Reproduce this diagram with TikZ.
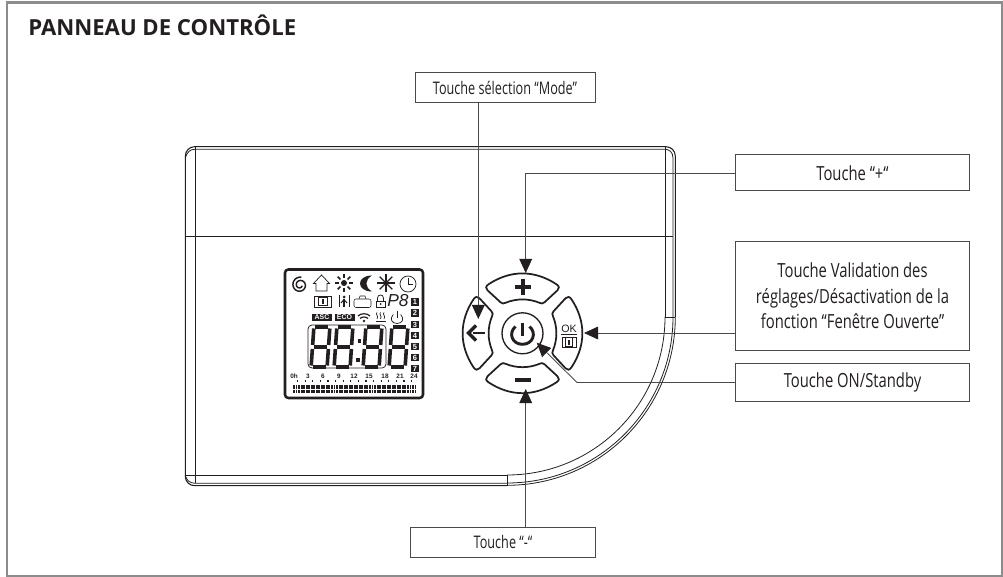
\documentclass[tikz,border=0pt]{standalone}
\usepackage{fontspec}
\setmainfont{Open Sans}
\newfontfamily\labelfont[FakeStretch=0.76]{Open Sans}
\newfontfamily\narrowfont[FakeStretch=0.73]{Open Sans}
\newfontfamily\lcdfont{Liberation Sans}
\usetikzlibrary{arrows.meta,calc}
\definecolor{Ink}{HTML}{231F20}
\definecolor{Wire}{HTML}{4A4A4A}
\definecolor{Frame}{HTML}{8C8C8C}
\newcommand{\lcddigit}[1]{%
  \begin{scope}[shift={(#1,347)},xslant=0.07]
    \foreach \ax/\ay/\bx/\by in {3.5/-20/16.5/-20,2/-18.5/2/-2,18/-18.5/18/-2,3.5/0/16.5/0,2/2/2/18.5,18/2/18/18.5,3.5/20/16.5/20}
      \draw[line width=2.7pt,Ink] (\ax,\ay) -- (\bx,\by);
  \end{scope}}
\begin{document}
\begin{tikzpicture}[
    x=0.75pt,y=-0.75pt,
    labelbox/.style={draw=Wire,line width=0.75pt,fill=white,align=center,inner sep=0pt,text=Ink},
    sidebox/.style={labelbox,font=\labelfont\fontsize{14.6}{19.4}\selectfont},
    endbox/.style={labelbox,font=\narrowfont\fontsize{13}{16}\selectfont},
    leader/.style={draw=Wire,line width=0.65pt,-{Triangle[length=10.5pt,width=9.5pt,fill=Ink,color=Ink]}},
    shell/.style={draw=Ink,line width=0.6pt},
    keypad/.style={draw=Ink,line width=1.3pt,fill=white},
    icon/.style={draw=Ink,line width=0.55pt},
    lcdtext/.style={inner sep=0pt,text=Ink,font=\lcdfont\bfseries\fontsize{4.8}{5}\selectfont}
  ]
    \useasboundingbox (0,0) rectangle (1003,577);
    \draw[draw=Frame,line width=1.6pt] (7,2.5) rectangle (1002,576);
    \node[anchor=base west,inner sep=0pt,text=Ink,font=\bfseries\fontsize{16.6}{20}\selectfont] (title) at (28,35.5) {PANNEAU DE CONTRÔLE};

    \draw[shell,line width=0.8pt,rounded corners=7pt] (507,485.7) -- (185.3,485.7) -- (185.3,146.7) -- (675.3,146.7) -- (675.3,317);
    \draw[shell] (185.3,236.7) -- (673,236.7);
    \draw[shell] (185.3,475) -- (507,475) -- (507,485.7);
    \draw[shell] (185.3,475) .. controls (186,480) and (190,483.3) .. (195,483.3) -- (507,483.3);
    \draw[shell] (185.3,158) .. controls (187,152) and (190,149.3) .. (195,149.3) -- (665,149.3) .. controls (669,149.3) and (673,152) .. (673,158) -- (673,317);
    \draw[shell] (195,146.7) -- (195,483.3);
    \draw[shell] (665,146.7) -- (665,317);
    \draw[shell] (665,317) -- (675.3,317);
    \draw[shell] (665,317) arc[start angle=0,end angle=90,radius=158];
    \draw[shell] (673,317) arc[start angle=0,end angle=90,radius=166];
    \draw[shell] (675.3,317) arc[start angle=0,end angle=90,radius=168.3];

    \draw[draw=Ink,line width=1.9pt,rounded corners=2.5pt] (285,269.5) rectangle (423,398);
    \draw[icon,line width=1.1pt] plot[smooth,domain=20:640,samples=40] ({300+(2+6*\x/640)*cos(\x)},{285+(2+6*\x/640)*sin(\x)});
    \draw[icon] (316,291) -- (316,283.5) -- (313.5,283.5) -- (321.5,275) -- (329.5,283.5) -- (327,283.5) -- (327,291) -- cycle;
    \fill[Ink] (344,283) circle (3);
    \foreach \ang in {0,45,...,315}
      \draw[icon,line width=1.1pt] ($(344,283)+(\ang:5)$) -- ($(344,283)+(\ang:9)$);
    \fill[Ink] (372,275.5) .. controls (356,275.5) and (356,291.5) .. (372,291.5) .. controls (364.5,287) and (364.5,280) .. (372,275.5) -- cycle;
    \foreach \ang in {0,45,...,135}
      \draw[icon,line width=1pt] ($(386,283)+(\ang:9)$) -- ($(386,283)+(\ang+180:9)$);
    \draw[icon] (408,284) circle (8);
    \draw[icon] (408,278) -- (408,284) -- (413,284);
    \draw[icon,line width=0.4pt] (314,296) rectangle (331,307);
    \draw[icon,line width=0.4pt] (318,297.5) rectangle (327,305.5);
    \fill[Ink] (321.5,299) rectangle (323.5,304);
    \draw[icon] (339,295.5) -- (339,307);
    \draw[icon] (349,295.5) -- (349,307);
    \fill[Ink] (344,297) circle (1.5);
    \draw[icon,line width=1.1pt] (344,299) -- (344,307);
    \draw[icon,line width=0.7pt] (341,303) -- (344,299.5) -- (347,303);
    \draw[icon,line width=0.4pt,rounded corners=1.5pt] (354,299) rectangle (371,307.5);
    \draw[icon,line width=0.4pt] (359,299) -- (360,296) -- (365,296) -- (366,299);
    \draw[icon] (376,301) rectangle (385,307.5);
    \draw[icon] (377.5,301) -- (377.5,298) .. controls (377.5,294) and (383.5,294) .. (383.5,298) -- (383.5,301);
    \fill[Ink] (380.5,304) circle (1);
    \node[inner sep=0pt,text=Ink,font=\lcdfont\itshape\fontsize{13}{13}\selectfont] (pgmlabel) at (398,301) {P8};
    \node[fill=Ink,text=white,inner sep=0pt,minimum width=15pt,minimum height=5.4pt,font=\lcdfont\bfseries\fontsize{5.2}{5}\selectfont] (asclabel) at (322,317.5) {ASC};
    \node[fill=Ink,text=white,inner sep=0pt,minimum width=15pt,minimum height=5.4pt,font=\lcdfont\bfseries\fontsize{5.2}{5}\selectfont] (ecolabel) at (344.5,317.5) {ECO};
    \draw[icon,line width=0.9pt] (358,316) .. controls (361,313) and (367,313) .. (370,316);
    \draw[icon,line width=0.9pt] (360,318.5) .. controls (362,316.5) and (366,316.5) .. (368,318.5);
    \fill[Ink] (364,321) circle (1.3);
    \foreach \hx in {377,380.5,384}
      \draw[icon] (\hx,312.5) .. controls ($(\hx,312.5)+(-2,2)$) and ($(\hx,312.5)+(2,3)$) .. ($(\hx,312.5)+(0,6.5)$);
    \draw[icon,line width=0.9pt] (375.5,321.5) -- (385.5,321.5);
    \draw[icon] (393.3,314.5) .. controls (389,319) and (392,323.5) .. (397,323.5) .. controls (402,323.5) and (405,319) .. (400.7,314.5);
    \draw[icon] (397,311.5) -- (397,318.5);
    \foreach \num/\ny in {1/302,2/313,3/324.5,4/335.5,5/346.5,6/357.5,7/368.5}
      \node[fill=Ink,text=white,inner sep=0pt,minimum size=5.8pt,font=\lcdfont\bfseries\fontsize{5.6}{5}\selectfont] (zone\num) at (415,\ny) {\num};
    \draw[icon,rounded corners=3pt] (308,325) rectangle (386,368);
    \lcddigit{310.5}
    \lcddigit{333.5}
    \lcddigit{362.5}
    \lcddigit{388.5}
    \fill[Ink] (357.5,339) rectangle (361,343);
    \fill[Ink] (356,358) rectangle (359.5,362);
    \node[lcdtext] (hour0) at (294,376.5) {0h};
    \foreach \hr/\hx in {3/308,6/323,9/339,12/354,15/369,18/385,21/400,24/414}
      \node[lcdtext] (hour\hr) at (\hx,376.5) {\hr};
    \draw[Ink,line width=1pt,dash pattern=on 0.9pt off 4.8pt] (297,381) -- (416,381);
    \draw[Ink,line width=2.6pt,dash pattern=on 1.45pt off 0.45pt] (293,387) -- (416,387);
    \draw[Ink,line width=2.6pt,dash pattern=on 1.45pt off 0.45pt] (293,391.5) -- (416,391.5);

    \foreach \rot in {0,90,180,270}
      \draw[keypad,shift={(522.5,333.3)},rotate=\rot]
        (-34,-49) .. controls (-12,-63.5) and (12,-63.5) .. (34,-49) .. controls (37,-47) and (37,-45) .. (35,-43)
        -- (22,-31) .. controls (20,-29.5) and (19,-29.5) .. (17,-30.5) .. controls (6,-35) and (-6,-35) .. (-17,-30.5)
        .. controls (-19,-29.5) and (-20,-29.5) .. (-22,-31) -- (-35,-43) .. controls (-37,-45) and (-37,-47) .. (-34,-49) -- cycle;
    \draw[keypad,line width=1pt] (522.5,333.3) circle (20.5);
    \draw[draw=Ink,line width=2.2pt] (515.5,326.5) .. controls (508,333) and (512,344.3) .. (522.5,344.3) .. controls (533,344.3) and (537,333) .. (529.5,326.5);
    \draw[draw=Ink,line width=2.2pt] (522.5,322.7) -- (522.5,336);
    \draw[draw=Ink,line width=3pt] (515,287) -- (531,287);
    \draw[draw=Ink,line width=3pt] (523,279) -- (523,295);
    \draw[draw=Ink,line width=3pt] (515,380) -- (531,380);
    \draw[draw=Ink,line width=2.4pt] (476,325.5) -- (468.5,333) -- (476,340.5);
    \draw[draw=Ink,line width=2pt] (473,333) -- (485,333);
    \node[inner sep=0pt,text=Ink,font=\lcdfont\fontsize{8}{8}\selectfont] (oklabel) at (569,328.5) {OK};
    \draw[draw=Ink,line width=0.9pt] (561,334.5) -- (577,334.5);
    \draw[icon,line width=0.4pt] (562,337) rectangle (576,347);
    \draw[icon,line width=0.4pt] (565.5,337.5) rectangle (572.5,346.5);
    \fill[Ink] (568,340) rectangle (570,344.5);

    \node[endbox,minimum width=135pt,minimum height=23pt] (modebox) at (505,87.5) {Touche sélection “Mode”};
    \node[sidebox,minimum width=175.2pt,minimum height=27pt] (plusbox) at (852.5,173) {Touche “+“};
    \node[sidebox,minimum width=175.2pt,minimum height=81.8pt] (validbox) at (852.5,295.8) {Touche Validation des\\réglages/Désactivation de la\\fonction “Fenêtre Ouverte”};
    \node[sidebox,minimum width=175.2pt,minimum height=27.8pt] (onbox) at (852.5,382.5) {Touche ON/Standby};
    \node[endbox,minimum width=139pt,minimum height=22.5pt] (minusbox) at (503,542) {Touche “-“};

    \coordinate (modetip) at (478.3,319);
    \coordinate (plustip) at (525.7,273);
    \coordinate (oktip) at (584,333);
    \coordinate (ontip) at (536.7,342.7);
    \coordinate (onbend) at (577,382.5);
    \coordinate (minustip) at (525.7,389);
    \draw[leader] (modetip |- modebox.south) -- (modetip);
    \draw[leader] (plusbox.west) -| (plustip);
    \draw[leader] (oktip -| validbox.west) -- (oktip);
    \draw[leader] (onbox.west) -- (onbend) -- (ontip);
    \draw[leader] (minustip |- minusbox.north) -- (minustip);
  \end{tikzpicture}
\end{document}
